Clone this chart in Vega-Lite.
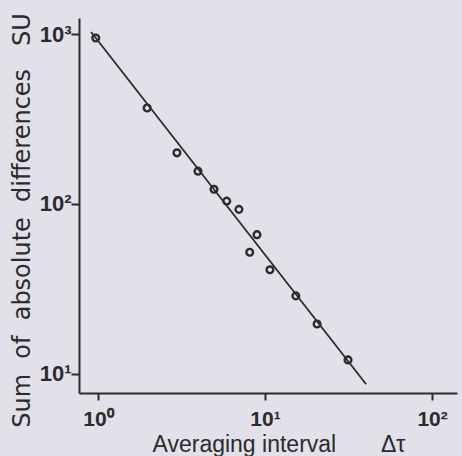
{
  "$schema": "https://vega.github.io/schema/vega-lite/v6.json",
  "width": 378,
  "height": 375,
  "autosize": "none",
  "padding": {"left": 79, "top": 18, "right": 5, "bottom": 63},
  "background": "#e2e0e8",
  "config": {"view": {"stroke": null}},
  "datasets": {
    "points": [
      {"dt": 0.97, "su": 947},
      {"dt": 1.97, "su": 367},
      {"dt": 2.97, "su": 200},
      {"dt": 3.97, "su": 156},
      {"dt": 4.95, "su": 122},
      {"dt": 5.9, "su": 104},
      {"dt": 6.98, "su": 93},
      {"dt": 8.1, "su": 52},
      {"dt": 8.95, "su": 66},
      {"dt": 10.7, "su": 41},
      {"dt": 15.3, "su": 28.8},
      {"dt": 20.5, "su": 19.7},
      {"dt": 31.4, "su": 12.1}
    ],
    "fit": [
      {"dt": 0.91, "su": 1027},
      {"dt": 40.3, "su": 8.7}
    ],
    "xticks": [
      {"v": 1, "kind": "major"}, {"v": 2, "kind": "minor"}, {"v": 3, "kind": "minor"}, {"v": 4, "kind": "minor"}, {"v": 5, "kind": "minor"}, {"v": 6, "kind": "minor"}, {"v": 7, "kind": "minor"}, {"v": 8, "kind": "minor"}, {"v": 9, "kind": "minor"},
      {"v": 10, "kind": "major"}, {"v": 20, "kind": "minor"}, {"v": 30, "kind": "minor"}, {"v": 40, "kind": "minor"}, {"v": 50, "kind": "minor"}, {"v": 60, "kind": "minor"}, {"v": 70, "kind": "minor"}, {"v": 80, "kind": "minor"}, {"v": 90, "kind": "minor"},
      {"v": 100, "kind": "major"}
    ],
    "yticks": [
      {"v": 10, "kind": "major"}, {"v": 20, "kind": "minor"}, {"v": 30, "kind": "minor"}, {"v": 40, "kind": "minor"}, {"v": 50, "kind": "minor"}, {"v": 60, "kind": "minor"}, {"v": 70, "kind": "minor"}, {"v": 80, "kind": "minor"}, {"v": 90, "kind": "minor"},
      {"v": 100, "kind": "major"}, {"v": 200, "kind": "minor"}, {"v": 300, "kind": "minor"}, {"v": 400, "kind": "minor"}, {"v": 500, "kind": "minor"}, {"v": 600, "kind": "minor"}, {"v": 700, "kind": "minor"}, {"v": 800, "kind": "minor"}, {"v": 900, "kind": "minor"},
      {"v": 1000, "kind": "major"}
    ]
  },
  "encoding": {
    "x": {
      "field": "dt",
      "type": "quantitative",
      "scale": {"type": "log", "domain": [0.77, 141], "nice": false},
      "axis": {
        "title": "Averaging interval\u00a0\u00a0\u00a0\u00a0\u00a0\u00a0 Δτ",
        "values": [1, 10, 100],
        "labelExpr": "datum.value == 1 ? '10⁰' : datum.value == 10 ? '10¹' : '10²'",
        "ticks": true,
        "tickSize": 7,
        "tickWidth": 2,
        "tickColor": "#2b2b2e",
        "grid": false,
        "domainColor": "#2b2b2e",
        "domainWidth": 2,
        "labelFont": "Liberation Sans",
        "labelFontWeight": "bold",
        "labelFontSize": 21,
        "labelColor": "#2b2b2e",
        "labelPadding": 8,
        "labelFlush": false,
        "labelOverlap": false,
        "titleFont": "Liberation Sans",
        "titleFontSize": 23,
        "titleFontWeight": "normal",
        "titleColor": "#2b2b2e",
        "titleX": 73,
        "titleY": 58,
        "titleAlign": "left",
        "titleBaseline": "alphabetic"
      }
    },
    "y": {
      "field": "su",
      "type": "quantitative",
      "scale": {"type": "log", "domain": [7.73, 1242], "nice": false},
      "axis": {
        "title": "Sum\u00a0 of\u00a0 absolute\u00a0 differences\u00a0\u00a0 SU",
        "values": [10, 100, 1000],
        "labelExpr": "datum.value == 10 ? '10¹' : datum.value == 100 ? '10²' : '10³'",
        "ticks": true,
        "tickSize": 8,
        "tickWidth": 2,
        "tickColor": "#2b2b2e",
        "grid": false,
        "domainColor": "#2b2b2e",
        "domainWidth": 2,
        "labelFont": "Liberation Sans",
        "labelFontWeight": "bold",
        "labelFontSize": 22,
        "labelColor": "#2b2b2e",
        "labelPadding": 0,
        "labelFlush": false,
        "labelOverlap": false,
        "titleFont": "DejaVu Sans",
        "titleFontSize": 24,
        "titleFontWeight": "normal",
        "titleColor": "#2b2b2e",
        "titleAngle": -90,
        "titleX": -50,
        "titleY": 202,
        "titleAlign": "center",
        "titleBaseline": "alphabetic"
      }
    }
  },
  "layer": [
    {
      "data": {"name": "xticks"},
      "transform": [{"filter": "datum.kind == 'major'"}],
      "mark": {"type": "tick", "orient": "vertical", "size": 7, "thickness": 2, "yOffset": 3.5, "color": "#2b2b2e", "opacity": 1},
      "encoding": {"x": {"field": "v", "type": "quantitative"}, "y": {"datum": 7.73}}
    },
    {
      "data": {"name": "xticks"},
      "transform": [{"filter": "datum.kind == 'minor'"}],
      "mark": {"type": "tick", "orient": "vertical", "size": 4, "thickness": 2, "yOffset": 2, "color": "#2b2b2e", "opacity": 1},
      "encoding": {"x": {"field": "v", "type": "quantitative"}, "y": {"datum": 7.73}}
    },
    {
      "data": {"name": "yticks"},
      "transform": [{"filter": "datum.kind == 'major'"}],
      "mark": {"type": "tick", "orient": "horizontal", "size": 8, "thickness": 2, "xOffset": -4, "color": "#2b2b2e", "opacity": 1},
      "encoding": {"y": {"field": "v", "type": "quantitative"}, "x": {"datum": 0.77}}
    },
    {
      "data": {"name": "yticks"},
      "transform": [{"filter": "datum.kind == 'minor'"}],
      "mark": {"type": "tick", "orient": "horizontal", "size": 5, "thickness": 2, "xOffset": -2.5, "color": "#2b2b2e", "opacity": 1},
      "encoding": {"y": {"field": "v", "type": "quantitative"}, "x": {"datum": 0.77}}
    },
    {
      "data": {"name": "fit"},
      "mark": {"type": "line", "color": "#2b2b2e", "strokeWidth": 1.8}
    },
    {
      "data": {"name": "points"},
      "mark": {"type": "point", "shape": "circle", "filled": false, "size": 45, "strokeWidth": 2.4, "color": "#2b2b2e", "opacity": 1}
    }
  ]
}
